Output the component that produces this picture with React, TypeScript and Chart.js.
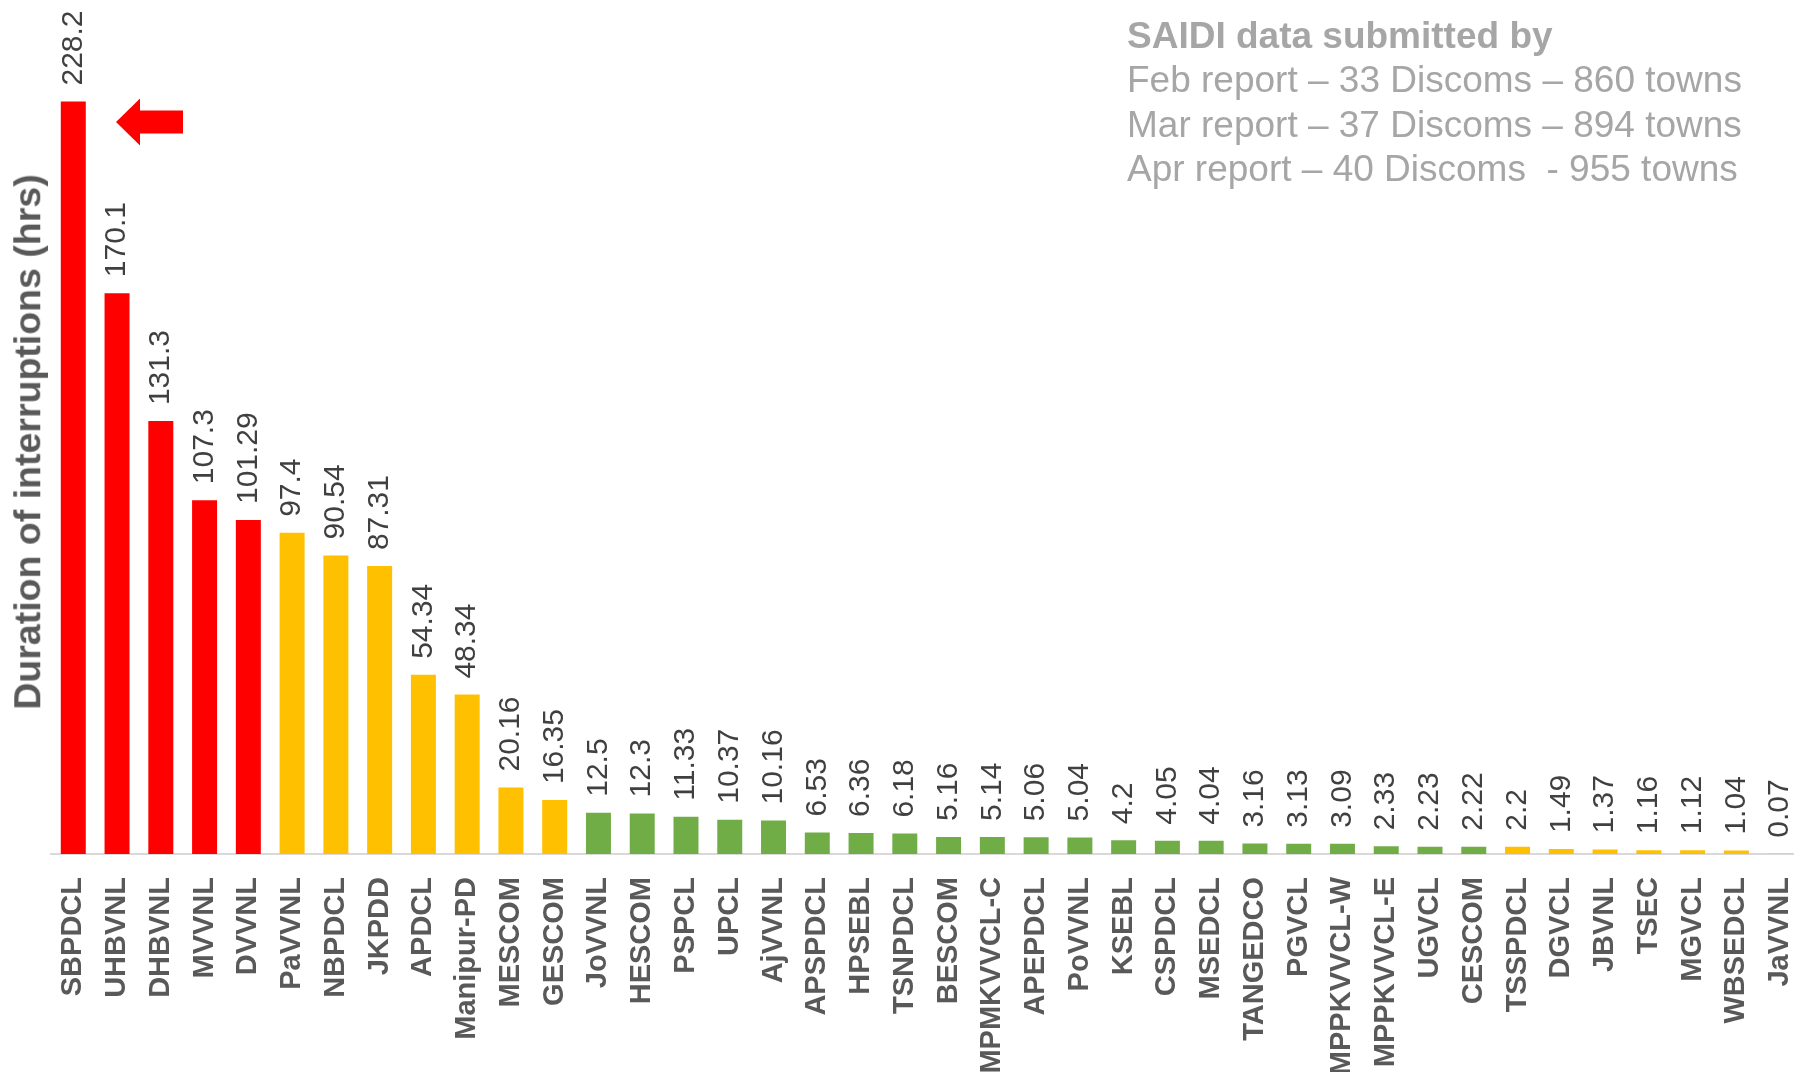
import React, { useEffect, useRef } from "react";
import { Chart, registerables } from "chart.js";

Chart.register(...registerables);

const categories = [
  "SBPDCL", "UHBVNL", "DHBVNL", "MVVNL", "DVVNL", "PaVVNL", "NBPDCL", "JKPDD", "APDCL", "Manipur-PD",
  "MESCOM", "GESCOM", "JoVVNL", "HESCOM", "PSPCL", "UPCL", "AjVVNL", "APSPDCL", "HPSEBL", "TSNPDCL",
  "BESCOM", "MPMKVVCL-C", "APEPDCL", "PoVVNL", "KSEBL", "CSPDCL", "MSEDCL", "TANGEDCO", "PGVCL", "MPPKVVCL-W",
  "MPPKVVCL-E", "UGVCL", "CESCOM", "TSSPDCL", "DGVCL", "JBVNL", "TSEC", "MGVCL", "WBSEDCL", "JaVVNL",
];

const saidiHours = [
  228.2, 170.1, 131.3, 107.3, 101.29, 97.4, 90.54, 87.31, 54.34, 48.34,
  20.16, 16.35, 12.5, 12.3, 11.33, 10.37, 10.16, 6.53, 6.36, 6.18,
  5.16, 5.14, 5.06, 5.04, 4.2, 4.05, 4.04, 3.16, 3.13, 3.09,
  2.33, 2.23, 2.22, 2.2, 1.49, 1.37, 1.16, 1.12, 1.04, 0.07,
];

// band of each discom: "r" = red, "a" = amber, "g" = green
const bands = [
  "r", "r", "r", "r", "r", "a", "a", "a", "a", "a",
  "a", "a", "g", "g", "g", "g", "g", "g", "g", "g",
  "g", "g", "g", "g", "g", "g", "g", "g", "g", "g",
  "g", "g", "g", "a", "a", "a", "a", "a", "a", "a",
];

const noteLines = [
  "Feb report \u2013 33 Discoms \u2013 860 towns",
  "Mar report \u2013 37 Discoms \u2013 894 towns",
  "Apr report \u2013 40 Discoms  - 955 towns",
];

const bandColors: Record<string, string> = { r: "#ff0000", a: "#ffc000", g: "#70ad47" };
const FONT = "'Liberation Sans', Arial, Helvetica, sans-serif";

const valueLabelPlugin = {
  id: "valueLabels",
  afterDatasetsDraw(chart: any) {
    const ctx = chart.ctx;
    const meta = chart.getDatasetMeta(0);
    ctx.save();
    ctx.font = `30px ${FONT}`;
    ctx.fillStyle = "#404040";
    ctx.textAlign = "left";
    ctx.textBaseline = "middle";
    meta.data.forEach((bar: any, i: number) => {
      ctx.save();
      ctx.translate(bar.x, bar.y - 16);
      ctx.rotate(-Math.PI / 2);
      ctx.fillText(String(saidiHours[i]), 0, 0);
      ctx.restore();
    });
    ctx.restore();
  },
};

const arrowPlugin = {
  id: "arrow",
  afterDraw(chart: any) {
    const ctx = chart.ctx;
    ctx.save();
    ctx.fillStyle = "#ff0000";
    ctx.beginPath();
    ctx.moveTo(116, 122);
    ctx.lineTo(140, 98.5);
    ctx.lineTo(140, 110.5);
    ctx.lineTo(183, 110.5);
    ctx.lineTo(183, 133.5);
    ctx.lineTo(140, 133.5);
    ctx.lineTo(140, 145.5);
    ctx.closePath();
    ctx.fill();
    ctx.restore();
  },
};

export default function App() {
  const canvasRef = useRef<HTMLCanvasElement | null>(null);

  useEffect(() => {
    if (!canvasRef.current) return;
    const chart = new Chart(canvasRef.current, {
      type: "bar",
      data: {
        labels: categories,
        datasets: [
          {
            data: saidiHours,
            backgroundColor: bands.map((b) => bandColors[b]),
            barPercentage: 0.571,
            categoryPercentage: 1,
          },
        ],
      },
      options: {
        animation: false,
        responsive: false,
        devicePixelRatio: 1,
        layout: { padding: { left: 51.4, right: 0, top: 0, bottom: 0 } },
        plugins: { legend: { display: false }, tooltip: { enabled: false }, title: { display: false } },
        scales: {
          x: {
            grid: { display: false, drawTicks: false },
            border: { display: true, color: "#d9d9d9", width: 2 },
            ticks: {
              autoSkip: false,
              maxRotation: 90,
              minRotation: 90,
              padding: 23,
              color: "#595959",
              font: { family: FONT, size: 29, weight: "bold" },
            },
            afterFit: (scale: any) => {
              scale.height = 218;
              scale.paddingLeft = 0;
              scale.paddingRight = 0;
            },
          },
          y: {
            display: false,
            min: 0,
            max: 259,
          },
        },
      },
      plugins: [valueLabelPlugin, arrowPlugin],
    } as any);
    return () => chart.destroy();
  }, []);

  return (
    <div
      style={{
        position: "fixed",
        left: 0,
        top: 0,
        width: 1794,
        height: 1072,
        overflow: "hidden",
        background: "#ffffff",
      }}
    >
      <canvas ref={canvasRef} width={1802} height={1072} style={{ display: "block", width: 1802, height: 1072 }} />
      <div
        style={{
          position: "absolute",
          left: 27.5,
          top: 442,
          transform: "translate(-50%, -50%) rotate(-90deg)",
          whiteSpace: "nowrap",
          fontFamily: FONT,
          fontWeight: "bold",
          fontSize: 37.5,
          color: "#595959",
          lineHeight: 1,
        }}
      >
        Duration of interruptions (hrs)
      </div>
      <div
        style={{
          position: "absolute",
          left: 1127,
          top: 13.5,
          fontFamily: FONT,
          fontSize: 37,
          lineHeight: "44.5px",
          color: "#a6a6a6",
          whiteSpace: "pre",
        }}
      >
        <div style={{ fontWeight: "bold" }}>SAIDI data submitted by</div>
        {noteLines.map((l) => (
          <div key={l}>{l}</div>
        ))}
      </div>
    </div>
  );
}
